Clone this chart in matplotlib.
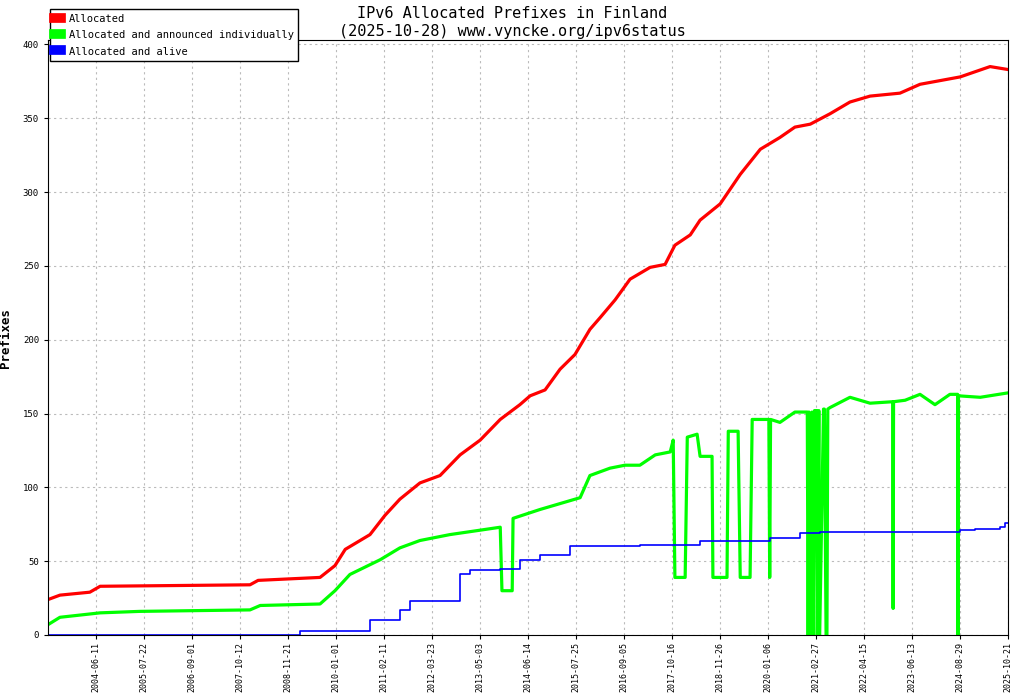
import matplotlib
matplotlib.use("Agg")
import matplotlib.pyplot as plt

plt.rcParams['font.family'] = ['DejaVu Sans Mono']

# x positions are in (approximate) decimal years along the chart's sample axis
red_years = [2003.40,2003.68,2004.38,2004.62,2008.13,2008.32,2009.77,2010.12,2010.36,2010.94,2011.29,2011.64,2012.11,2012.58,2013.05,2013.52,2013.99,2014.45,2014.69,2015.04,2015.39,2015.74,2016.09,2016.33,2016.68,2017.03,2017.50,2017.85,2018.08,2018.44,2018.67,2019.14,2019.61,2020.08,2020.54,2020.89,2021.25,2021.71,2022.18,2022.65,2023.35,2023.82,2024.76,2025.46,2025.88]
red_vals  = [24,27,29,33,34,37,39,47,58,68,81,92,103,108,122,132,146,156,162,166,180,190,207,215,227,241,249,251,264,271,281,292,312,329,337,344,346,353,361,365,367,373,378,385,383]

green_years = [2003.40,2003.68,2004.62,2005.55,2008.13,2008.37,2009.77,2010.12,2010.47,2011.18,2011.64,2012.11,2012.81,2013.52,2013.99,2014.03,2014.27,2014.29,2014.92,2015.39,2015.86,2016.09,2016.56,2016.91,2017.26,2017.62,2017.97,2018.04,2018.08,2018.32,2018.37,2018.60,2018.67,2018.95,2018.97,2019.30,2019.33,2019.56,2019.61,2019.84,2019.89,2020.28,2020.30,2020.32,2020.54,2020.89,2021.18,2021.20,2021.22,2021.27,2021.29,2021.33,2021.35,2021.40,2021.42,2021.45,2021.47,2021.56,2021.58,2021.62,2021.64,2021.66,2021.71,2022.18,2022.65,2023.18,2023.19,2023.20,2023.47,2023.82,2024.17,2024.52,2024.70,2024.71,2024.72,2025.23,2025.88]
green_vals  = [7,12,15,16,17,20,21,30,41,51,59,64,68,71,73,30,30,79,85,89,93,108,113,115,115,122,124,132,39,39,134,136,121,121,39,39,138,138,39,39,146,146,39,146,144,151,151,0,151,0,151,0,152,152,0,152,0,153,153,0,0,153,154,161,157,158,18,158,159,163,156,163,163,0,162,161,164]

blue_years = [2003.40,2009.07,2009.30,2010.71,2010.94,2011.64,2011.88,2012.58,2013.05,2013.28,2013.99,2014.45,2014.92,2015.63,2017.26,2018.67,2020.31,2021.01,2021.48,2024.76,2024.99,2025.11,2025.70,2025.81,2025.88]
blue_vals  = [0,0,3,3,10,17,23,23,41,44,45,51,54,60,61,64,66,69,70,71,71,72,73,76,76]

tick_labels = ["2004-06-11","2005-07-22","2006-09-01","2007-10-12","2008-11-21","2010-01-01","2011-02-11","2012-03-23","2013-05-03","2014-06-14","2015-07-25","2016-09-05","2017-10-16","2018-11-26","2020-01-06","2021-02-27","2022-04-15","2023-06-13","2024-08-29","2025-10-21"]
tick_pos = [2004.52 + 1.1242 * i for i in range(len(tick_labels))]

fig = plt.figure(figsize=(10.24, 7.0), dpi=100)
ax = fig.add_axes([48/1024, 65/700, 960/1024, 595/700])

ax.plot(red_years, red_vals, color='#ff0000', lw=2.3, label='Allocated')
ax.plot(green_years, green_vals, color='#00ff00', lw=2.3, label='Allocated and announced individually')
ax.plot(blue_years, blue_vals, color='#0000ff', lw=1.2, label='Allocated and alive', drawstyle='steps-post')

ax.set_xlim(2003.40, 2025.88)
ax.set_ylim(0, 403)
ax.set_xticks(tick_pos)
ax.set_xticklabels(tick_labels, rotation=90, fontsize=6)
ax.tick_params(axis='x', pad=2, length=3)
ax.set_yticks(range(0, 401, 50))
ax.tick_params(axis='y', labelsize=6.5, length=3)
ax.grid(True, linestyle=(0, (2, 3)), color='#bbbbbb', lw=0.8)
ax.set_ylabel('Prefixes', fontsize=9, fontweight='bold', labelpad=8)
fig.text(0.5, 0.968, 'IPv6 Allocated Prefixes in Finland\n(2025-10-28) www.vyncke.org/ipv6status',
         ha='center', va='center', fontsize=11, linespacing=1.3)
leg = ax.legend(loc='upper left', bbox_to_anchor=(0.0, 1.055), fontsize=7.5, frameon=True,
                fancybox=False, edgecolor='black', handlelength=0.6, handleheight=1.2,
                borderaxespad=0.2, framealpha=1)
for h in leg.legend_handles:
    h.set_linewidth(7)
fig.savefig('out.png', dpi=100)
